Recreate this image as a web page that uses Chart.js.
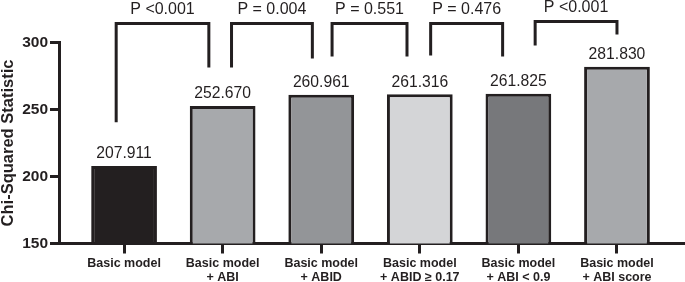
<!DOCTYPE html>
<html>
<head>
<meta charset="utf-8">
<script src="https://cdn.jsdelivr.net/npm/chart.js@4"></script>
<style>
  body { margin: 0; background: #fff; }
  #wrap { width: 685px; height: 282px; position: relative; }
</style>
</head>
<body>
<div id="wrap"><canvas id="chi"></canvas></div>
<script>
// categories (two-line labels) and values
const modelLabels = [
    ['Basic model'],
    ['Basic model', '+ ABI'],
    ['Basic model', '+ ABID'],
    ['Basic model', '+ ABID \u2265 0.17'],
    ['Basic model', '+ ABI < 0.9'],
    ['Basic model', '+ ABI score']
];
const chiValues = [207.911, 252.670, 260.961, 261.316, 261.825, 281.830];
const barColors = ['#231f20', '#a7a9ac', '#939598', '#d4d5d7', '#77787b', '#a7a9ac'];
const yTicks = [150, 200, 250, 300];

// comparison brackets: leg positions in category units, heights in chi units
const pLabels = ['P <0.001', 'P = 0.004', 'P = 0.551', 'P = 0.476', 'P <0.001'];
const bracketLeft  = [-0.08, 1.09, 2.11, 3.11, 4.17];
const bracketRight = [0.86, 1.91, 2.87, 3.84, 5.0];
const leftLegEnd   = [240.5, 281.3, 289.5, 290.3, 297.8];
const rightLegEnd  = [281.3, 288.0, 289.5, 289.5, 306.0];
const bracketTop   = [314.2, 314.2, 314.2, 314.2, 315.7];

const ink = '#231f20';

let barPoints = chiValues.map(function(v, i) { return {x: i, y: v}; });

const overlays = {
    id: 'overlays',
    afterDatasetsDraw: function(chart) {
        const ctx = chart.ctx;
        const xs = chart.scales.x, ys = chart.scales.y;
        ctx.save();
        ctx.fillStyle = ink;
        ctx.textAlign = 'center';
        ctx.textBaseline = 'alphabetic';
        // value labels
        ctx.font = '15.7px "Liberation Sans", Arial, sans-serif';
        chiValues.forEach(function(v, i) {
            ctx.fillText(v.toFixed(3), xs.getPixelForValue(i), ys.getPixelForValue(v) - 7.5);
        });
        // brackets
        ctx.strokeStyle = ink;
        ctx.lineWidth = 3;
        ctx.lineJoin = 'miter';
        ctx.font = '16px "Liberation Sans", Arial, sans-serif';
        for (let j = 0; j < pLabels.length; j++) {
            const x1 = xs.getPixelForValue(bracketLeft[j]);
            const x2 = xs.getPixelForValue(bracketRight[j]);
            const top = ys.getPixelForValue(bracketTop[j]);
            ctx.beginPath();
            ctx.moveTo(x1, ys.getPixelForValue(leftLegEnd[j]));
            ctx.lineTo(x1, top);
            ctx.lineTo(x2, top);
            ctx.lineTo(x2, ys.getPixelForValue(rightLegEnd[j]));
            ctx.stroke();
            ctx.fillText(pLabels[j], (x1 + x2) / 2, top - 9);
        }
        ctx.restore();
    }
};

new Chart(document.getElementById('chi'), {
    type: 'bar',
    data: {
        datasets: [{
            data: barPoints,
            backgroundColor: barColors,
            borderColor: ink,
            borderWidth: 3,
            borderSkipped: false,
            barPercentage: 0.667,
            categoryPercentage: 1
        }]
    },
    options: {
        responsive: true,
        maintainAspectRatio: false,
        animation: false,
        layout: { padding: { top: 42.5, left: 0, right: 0, bottom: 0 } },
        plugins: { legend: { display: false }, tooltip: { enabled: false } },
        scales: {
            x: {
                type: 'linear',
                min: -0.66,
                max: 5.69,
                offset: false,
                afterBuildTicks: function(scale) {
                    scale.ticks = modelLabels.map(function(l, i) { return {value: i}; });
                },
                afterFit: function(scale) { scale.height = 38.5; },
                grid: { display: true, offset: false, drawOnChartArea: false, drawTicks: true, tickLength: 10, lineWidth: 3, color: ink },
                border: { display: true, color: ink, width: 3 },
                ticks: {
                    autoSkip: false,
                    maxRotation: 0,
                    padding: 3,
                    color: ink,
                    font: { family: '"Liberation Sans", Arial, sans-serif', size: 12.5, weight: 'bold', lineHeight: 1.1 },
                    callback: function(value) { return modelLabels[value]; }
                }
            },
            y: {
                min: 150,
                max: 300,
                afterBuildTicks: function(scale) {
                    scale.ticks = yTicks.map(function(v) { return {value: v}; });
                },
                afterFit: function(scale) { scale.width = 59; },
                grid: { display: true, drawOnChartArea: false, drawTicks: true, tickLength: 9, lineWidth: 3, color: ink },
                border: { display: true, color: ink, width: 3 },
                ticks: {
                    padding: 2,
                    color: ink,
                    font: { family: '"Liberation Sans", Arial, sans-serif', size: 15.5, weight: 'bold' }
                },
                title: {
                    display: true,
                    text: 'Chi-Squared Statistic',
                    color: ink,
                    padding: 0,
                    font: { family: '"Liberation Sans", Arial, sans-serif', size: 16.5, weight: 'bold', lineHeight: 1 }
                }
            }
        }
    },
    plugins: [overlays]
});
</script>
</body>
</html>
